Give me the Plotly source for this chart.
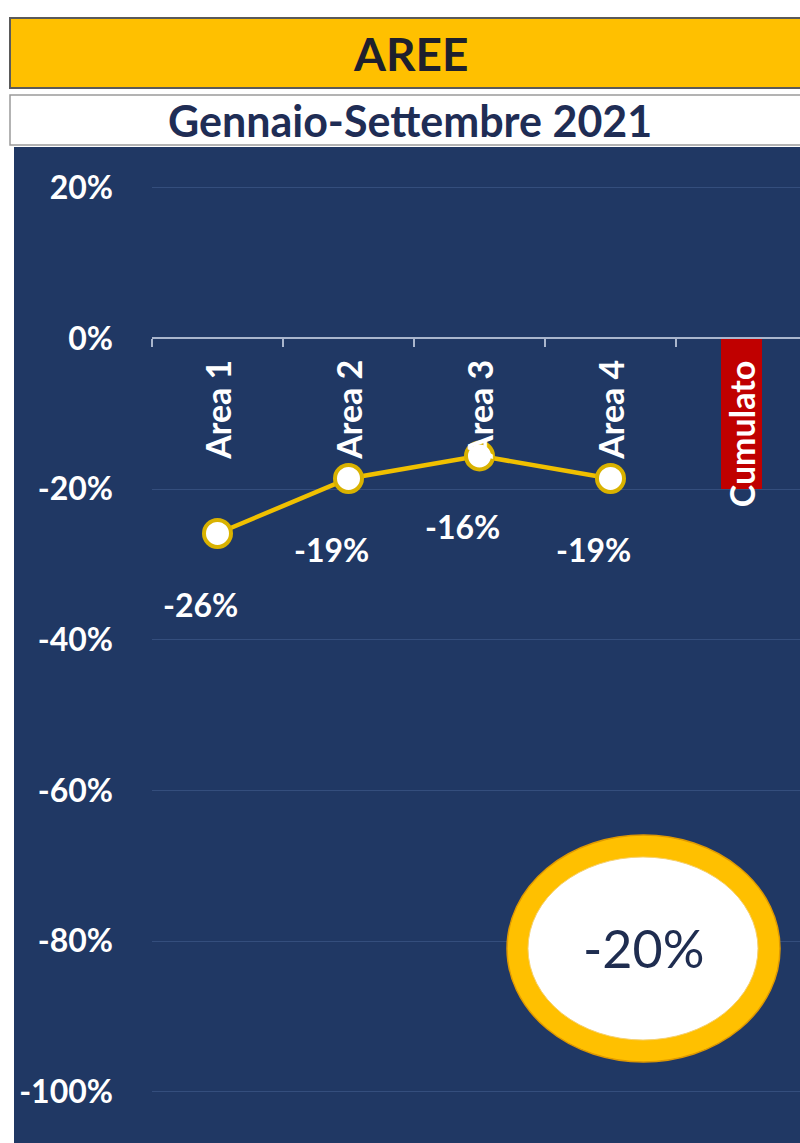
import plotly.graph_objects as go

# ---- data ----
title_text = "AREE"
subtitle_text = "Gennaio-Settembre 2021"
categories = ["Area 1", "Area 2", "Area 3", "Area 4", "Cumulato"]
area_values = [-25.9, -18.6, -15.6, -18.6]      # percent
cumulato_value = -20                            # percent
y_ticks = [20, 0, -20, -40, -60, -80, -100]

# ---- style ----
NAVY = "rgb(32,56,100)"
YELLOW = "#FFC000"
W, H = 800, 1143
ML, MT = 152, 150
PW, PH = W - ML, H - MT
YMIN, YMAX = -106.8, 25.0

def px_x(p):
    return (p - ML) / PW

def px_y(p):
    return (H - p) / PH

font_family = "Lato"

fig = go.Figure()

x_idx = list(range(len(categories)))

fig.add_trace(go.Bar(
    x=[x_idx[-1]], y=[cumulato_value], width=0.32,
    marker=dict(color="#C00000", line=dict(width=0)),
    showlegend=False, hoverinfo="skip"))

fig.add_trace(go.Scatter(
    x=x_idx[:len(area_values)], y=area_values, mode="lines+markers",
    line=dict(color="#F0C000", width=4.5),
    marker=dict(size=27, color="white", line=dict(color="#D9B200", width=4)),
    showlegend=False, hoverinfo="skip"))

annotations = []
# category labels
for i, c in enumerate(categories):
    annotations.append(dict(
        x=i, y=0, xref="x", yref="y", text=f"<b>{c}</b>", showarrow=False,
        textangle=-90, yanchor="top", xanchor="center", yshift=-20,
        font=dict(family=font_family, size=34, color="white")))
# data labels
for i, v in enumerate(area_values):
    annotations.append(dict(
        x=i, y=v, xref="x", yref="y", text=f"<b>{round(v):d}%</b>", showarrow=False,
        yanchor="middle", xanchor="center", xshift=-17, yshift=-71,
        font=dict(family=font_family, size=32, color="white")))
# titles
annotations.append(dict(
    x=px_x(410), y=px_y(54), xref="paper", yref="paper", text=f"<b>{title_text}</b>",
    showarrow=False, xanchor="center", yanchor="middle",
    font=dict(family=font_family, size=46, color="rgb(30,32,45)")))
annotations.append(dict(
    x=px_x(410), y=px_y(120), xref="paper", yref="paper", text=f"<b>{subtitle_text}</b>",
    showarrow=False, xanchor="center", yanchor="middle",
    font=dict(family=font_family, size=43, color="rgb(31,45,85)")))
# cumulated value in ellipse
annotations.append(dict(
    x=px_x(643), y=px_y(948), xref="paper", yref="paper", text=f"{cumulato_value}%",
    showarrow=False, xanchor="center", yanchor="middle",
    font=dict(family=font_family, size=52, color="rgb(31,45,80)")))

shapes = [
    # navy panel
    dict(type="rect", xref="paper", yref="paper", x0=px_x(14), x1=px_x(810),
         y0=px_y(1150), y1=px_y(147), fillcolor=NAVY, line=dict(width=0), layer="below"),
    # yellow banner
    dict(type="rect", xref="paper", yref="paper", x0=px_x(10), x1=px_x(812),
         y0=px_y(88), y1=px_y(18), fillcolor=YELLOW, line=dict(color="#5A5A5A", width=2)),
    # white subtitle bar
    dict(type="rect", xref="paper", yref="paper", x0=px_x(10), x1=px_x(812),
         y0=px_y(145), y1=px_y(95), fillcolor="white", line=dict(color="#9A9A9A", width=1.5)),
    # ellipse outer
    dict(type="circle", xref="paper", yref="paper", x0=px_x(507), x1=px_x(780),
         y0=px_y(1062), y1=px_y(835), fillcolor=YELLOW, line=dict(color="#E09A00", width=1.5)),
    # ellipse inner
    dict(type="circle", xref="paper", yref="paper", x0=px_x(528), x1=px_x(758),
         y0=px_y(1040), y1=px_y(857), fillcolor="white", line=dict(color="#F5D070", width=1)),
]

fig.update_layout(
    width=W, height=H,
    margin=dict(l=ML, r=0, t=MT, b=0, pad=0),
    paper_bgcolor="white", plot_bgcolor=NAVY,
    shapes=shapes, annotations=annotations,
    bargap=0,
    xaxis=dict(
        range=[-0.5, (W - ML) / 131 - 0.5], anchor="free",
        position=(0 - YMIN) / (YMAX - YMIN),
        showline=True, linecolor="rgb(170,182,205)", linewidth=1.5,
        ticks="outside", tickvals=[-0.5, 0.5, 1.5, 2.5, 3.5], ticklen=8,
        tickcolor="rgb(170,182,205)", tickwidth=1.5,
        showticklabels=False, showgrid=False, zeroline=False, fixedrange=True),
    yaxis=dict(
        range=[YMIN, YMAX], tickvals=y_ticks, ticktext=[f"<b>{t}%</b>" for t in y_ticks],
        showgrid=True, gridcolor="rgb(52,78,125)", gridwidth=1,
        zeroline=False, showline=False, ticks="", ticklabelstandoff=38,
        tickfont=dict(family=font_family, size=32, color="white")),
)

fig.write_html("out.html")
